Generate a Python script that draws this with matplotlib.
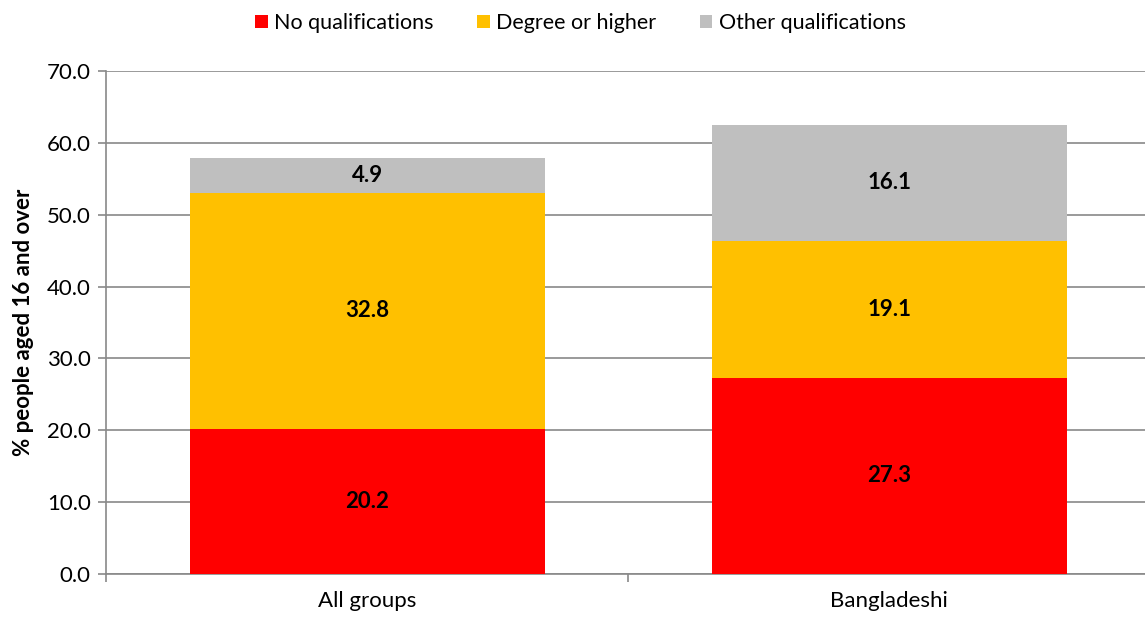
import matplotlib
matplotlib.use("Agg")
import matplotlib.pyplot as plt
import numpy as np

categories = ["All groups", "Bangladeshi"]
series_names = ["No qualifications", "Degree or higher", "Other qualifications"]
no_qual = [20.2, 27.3]
degree = [32.8, 19.1]
other = [4.9, 16.1]
colors = ["#FF0000", "#FFC000", "#BFBFBF"]
yticks = [0, 10, 20, 30, 40, 50, 60, 70]

plt.rcParams['font.family'] = ['Lato', 'DejaVu Sans']

fig = plt.figure(figsize=(11.45, 6.18), dpi=100)
ax = fig.add_axes([0.0926, 0.0712, 0.912, 0.814])

x = np.arange(len(categories))
bottom = np.zeros(len(categories))
for vals, name, c in zip([no_qual, degree, other], series_names, colors):
    bars = ax.bar(x, vals, 0.68, bottom=bottom, color=c, label=name, zorder=3)
    for b, v, y0 in zip(bars, vals, bottom):
        ax.text(b.get_x() + b.get_width() / 2, y0 + v / 2, f"{v:.1f}",
                ha='center', va='center', fontsize=16, fontweight='bold', zorder=4)
    bottom = bottom + np.array(vals)

ax.set_xlim(-0.5, 1.5)
ax.set_ylim(0, 70)
ax.set_yticks(yticks)
ax.set_yticklabels([f"{v:.1f}" for v in yticks], fontsize=16)
ax.set_xticks(x)
ax.set_xticklabels(categories, fontsize=16)
ax.set_xticks([-0.5, 0.5, 1.5], minor=True)
ax.tick_params(axis='x', which='major', length=0, pad=12)
ax.tick_params(axis='x', which='minor', length=6, color='#898989', width=1.2)
ax.tick_params(axis='y', length=6, color='#898989', width=1.2, pad=5)
ax.grid(axis='y', color='#898989', linewidth=1.2, zorder=0)
for s in ['top', 'right']:
    ax.spines[s].set_visible(False)
for s in ['left', 'bottom']:
    ax.spines[s].set_color('#898989')
    ax.spines[s].set_linewidth(1.2)
ax.set_ylabel("% people aged 16 and over", fontsize=16, fontweight='bold', labelpad=9)

fig.legend(loc='upper center', bbox_to_anchor=(0.507, 1.01), ncol=3, frameon=False,
           fontsize=15.5, handlelength=0.6, handleheight=0.6, handletextpad=0.3,
           columnspacing=2.0)

fig.savefig("out.png", dpi=100)
